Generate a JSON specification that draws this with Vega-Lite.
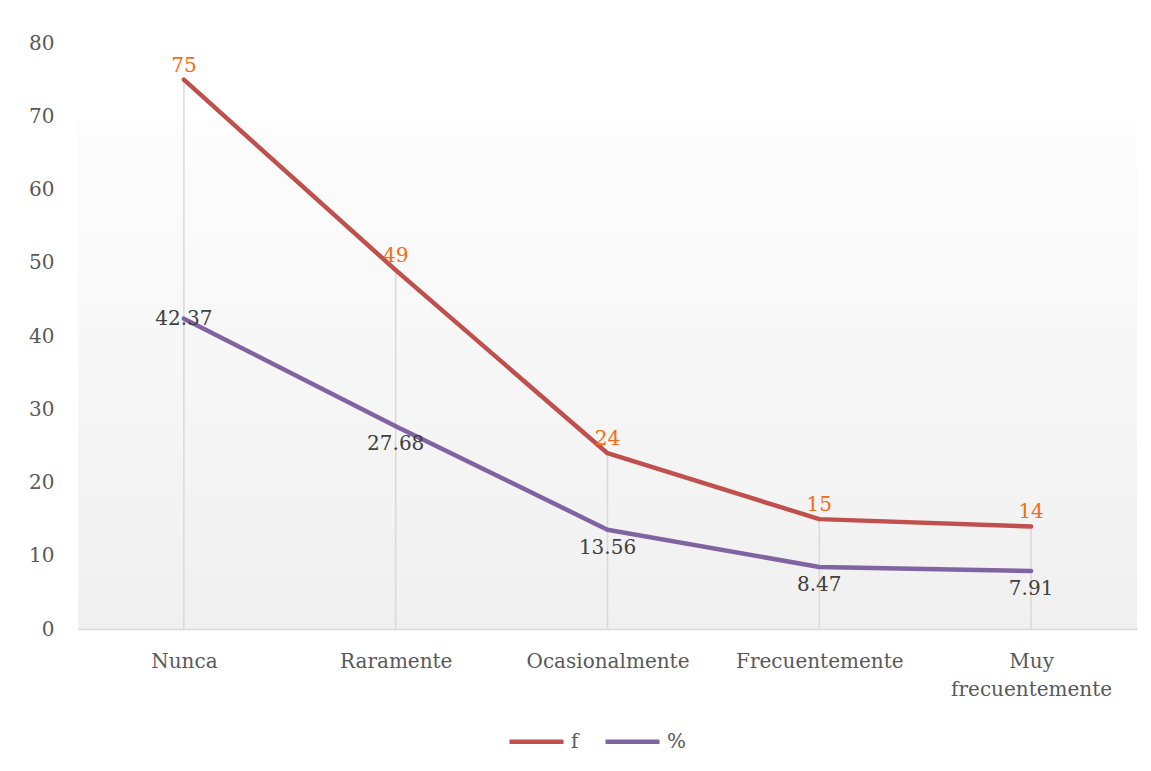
{
  "$schema": "https://vega.github.io/schema/vega-lite/v6.json",
  "width": 1059,
  "height": 586,
  "autosize": {"type": "none"},
  "padding": {"left": 78, "top": 43, "right": 14, "bottom": 142},
  "background": "white",
  "config": {
    "font": "DejaVu Serif",
    "view": {
      "stroke": null,
      "fill": {"gradient": "linear", "x1": 0, "y1": 0, "x2": 0, "y2": 1,
        "stops": [{"offset": 0, "color": "#ffffff"}, {"offset": 0.13, "color": "#ffffff"}, {"offset": 0.135, "color": "#fdfdfd"}, {"offset": 1, "color": "#f0f0f0"}]}
    }
  },
  "data": {
    "values": [
      {"cat": "Nunca", "serie": "f", "value": 75},
      {"cat": "Raramente", "serie": "f", "value": 49},
      {"cat": "Ocasionalmente", "serie": "f", "value": 24},
      {"cat": "Frecuentemente", "serie": "f", "value": 15},
      {"cat": "Muy frecuentemente", "serie": "f", "value": 14},
      {"cat": "Nunca", "serie": "%", "value": 42.37},
      {"cat": "Raramente", "serie": "%", "value": 27.68},
      {"cat": "Ocasionalmente", "serie": "%", "value": 13.56},
      {"cat": "Frecuentemente", "serie": "%", "value": 8.47},
      {"cat": "Muy frecuentemente", "serie": "%", "value": 7.91}
    ]
  },
  "encoding": {
    "x": {
      "field": "cat", "type": "nominal", "sort": null,
      "scale": {"type": "point", "padding": 0.5},
      "axis": {
        "title": null, "labelAngle": 0, "ticks": false,
        "domainColor": "#d9d9d9", "domainWidth": 1.5,
        "labelFont": "DejaVu Serif", "labelFontSize": 20, "labelColor": "#595959",
        "labelPadding": 22, "labelLineHeight": 28, "labelBaseline": "top",
        "labelExpr": "datum.value == 'Muy frecuentemente' ? ['Muy', 'frecuentemente'] : datum.value"
      }
    }
  },
  "layer": [
    {
      "transform": [{"filter": "datum.serie == 'f'"}],
      "mark": {"type": "rule", "color": "#d9d9d9", "strokeWidth": 1.5},
      "encoding": {
        "y": {"field": "value", "type": "quantitative"},
        "y2": {"datum": 0}
      }
    },
    {
      "mark": {"type": "line", "strokeWidth": 4.5, "strokeCap": "round", "strokeJoin": "round"},
      "encoding": {
        "y": {
          "field": "value", "type": "quantitative",
          "scale": {"domain": [0, 80]},
          "axis": {
            "title": null, "values": [0,10,20,30,40,50,60,70,80], "labelOverlap": false,
            "domain": false, "ticks": false, "grid": false,
            "labelFont": "DejaVu Serif", "labelFontSize": 20, "labelColor": "#595959",
            "labelPadding": 24
          }
        },
        "color": {
          "field": "serie", "type": "nominal",
          "scale": {"domain": ["f", "%"], "range": ["#c0504d", "#8064a2"]},
          "legend": {
            "title": null, "orient": "none", "direction": "horizontal",
            "legendX": 429, "legendY": 669,
            "symbolType": "stroke", "symbolSize": 2916, "symbolStrokeWidth": 4.5,
            "labelFont": "DejaVu Serif", "labelFontSize": 20, "labelColor": "#595959",
            "labelOffset": 5, "columnPadding": 17
          }
        }
      }
    },
    {
      "transform": [{"filter": "datum.serie == 'f'"}],
      "mark": {"type": "text", "font": "DejaVu Serif", "fontSize": 20, "color": "#f96b12", "baseline": "bottom", "dy": -4},
      "encoding": {
        "y": {"field": "value", "type": "quantitative"},
        "text": {"field": "value", "type": "quantitative"}
      }
    },
    {
      "transform": [{"filter": "datum.serie == '%' && datum.cat == 'Nunca'"}],
      "mark": {"type": "text", "font": "DejaVu Serif", "fontSize": 20, "color": "#404040", "baseline": "middle"},
      "encoding": {
        "y": {"field": "value", "type": "quantitative"},
        "text": {"field": "value", "type": "quantitative", "format": ".2f"}
      }
    },
    {
      "transform": [{"filter": "datum.serie == '%' && datum.cat != 'Nunca'"}],
      "mark": {"type": "text", "font": "DejaVu Serif", "fontSize": 20, "color": "#404040", "baseline": "top", "dy": 8},
      "encoding": {
        "y": {"field": "value", "type": "quantitative"},
        "text": {"field": "value", "type": "quantitative", "format": ".2f"}
      }
    }
  ]
}
